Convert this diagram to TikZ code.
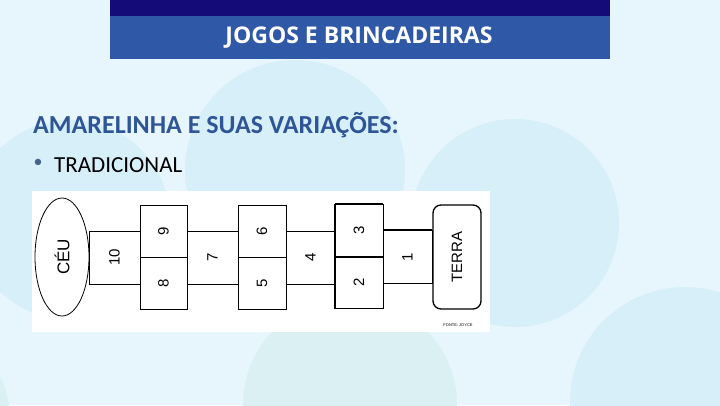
\documentclass[tikz,border=0pt]{standalone}
\usepackage{fontspec}
\setmainfont{Carlito}
\newfontfamily\titlefont{Open Sans}
\newfontfamily\boardfont{Liberation Sans}
\usetikzlibrary{shapes.geometric}

\definecolor{slidebg}{RGB}{230,246,252}
\definecolor{bubbleblue}{RGB}{215,239,248}
\definecolor{bubblegreen}{RGB}{218,240,242}
\definecolor{navybar}{RGB}{20,10,120}
\definecolor{titlebar}{RGB}{47,89,167}
\definecolor{headblue}{RGB}{47,85,151}

\tikzset{
  cell/.style={draw, line width=0.8pt, inner sep=0pt, fill=white},
  heavy/.style={line width=1.7pt},
  num/.style={font=\boardfont\fontsize{15}{15}\selectfont, rotate=90, inner sep=0pt}
}

\begin{document}
\begin{tikzpicture}[x=1pt,y=-1pt]
\useasboundingbox (0,0) rectangle (720,405);

%% background and bubbles
\fill[slidebg] (0,0) rectangle (720,405);
\fill[bubbleblue] (70,220) circle (100);
\fill[bubbleblue] (295,170) circle (110);
\fill[bubbleblue] (515,223) circle (104);
\fill[bubblegreen] (350,405) circle (107);
\fill[bubbleblue] (685,402) circle (115);
\fill[bubblegreen] (-90,420) circle (100);

%% header
\fill[navybar] (110,0) rectangle (610,16);
\fill[titlebar] (110,16) rectangle (610,59);
\node[text=white, font=\titlefont\bfseries\fontsize{23}{23}\selectfont] (title) at (359,38) {JOGOS E BRINCADEIRAS};

%% texts
\node[anchor=base west, inner sep=0pt, text=headblue, font=\bfseries\fontsize{26}{26}\selectfont] (heading) at (33,133) {AMARELINHA E SUAS VARIAÇÕES:};
\node[inner sep=0pt, text=headblue!70!gray, font=\fontsize{18}{18}\selectfont] (dot) at (38,163) {•};
\node[anchor=base west, inner sep=0pt, font=\fontsize{23}{23}\selectfont] (item) at (54,172) {TRADICIONAL};

%% board
\node[fill=white, inner sep=0pt, minimum width=458pt, minimum height=141pt] (board) at (261,261.5) {};

%% cells
\node[cell, minimum width=51pt, minimum height=53pt] (c10) at (114.5,257.5) {};  %% 10
\node[cell, minimum width=47pt, minimum height=52pt] (c9) at (163.5,231) {};     %% 9
\node[cell, minimum width=47pt, minimum height=52pt] (c8) at (163.5,283) {};     %% 8
\node[cell, minimum width=51pt, minimum height=53pt] (c7) at (212.5,257.5) {};   %% 7
\node[cell, minimum width=48pt, minimum height=52pt] (c6) at (262,231) {};       %% 6
\node[cell, minimum width=48pt, minimum height=52pt] (c5) at (262,283) {};       %% 5
\node[cell, minimum width=49pt, minimum height=53pt] (c4) at (310.5,257.5) {};   %% 4
\node[cell, minimum width=48pt, minimum height=52pt] (c3) at (359,230.5) {};     %% 3
\node[cell, minimum width=48pt, minimum height=52pt] (c2) at (359,282.5) {};     %% 2
\node[cell, minimum width=49pt, minimum height=53pt] (c1) at (407.5,257) {};     %% 1
\node[cell, ellipse, minimum width=54pt, minimum height=118pt] (ceu) at (62,257) {};                  %% ceu
\node[cell, line width=1.3pt, rounded corners=8pt, minimum width=48pt, minimum height=104pt] (terra) at (457,257) {}; %% terra

%% heavy edges
\draw[heavy] (c10.south west) -- (c10.south east);
\draw[heavy] (c9.south west) -- (c9.south east);
\draw[heavy] (c8.south west) -- (c8.south east);
\draw[heavy] (c7.south west) -- (c7.south east);
\draw[heavy] (c6.south west) -- (c6.south east);
\draw[heavy] (c6.north east) -- (c5.south east);
\draw[heavy] (c5.south west) -- (c5.south east);
\draw[heavy] (c4.south west) -- (c4.south east);
\draw[heavy] (c3.north west) -- (c3.north east);
\draw[heavy] (c3.south west) -- (c3.south east);
\draw[heavy] (c3.north west) -- (c2.south west);
\draw[heavy] (c1.north west) -- (c1.north east);

%% labels
\node[num, font=\boardfont\fontsize{17}{17}\selectfont] at (ceu) {CÉU};
\node[num] at (c10) {10};
\node[num] at (c9) {9};
\node[num] at (c8) {8};
\node[num] at (c7) {7};
\node[num] at (c6) {6};
\node[num] at (c5) {5};
\node[num] at (c4) {4};
\node[num] at (c3) {3};
\node[num] at (c2) {2};
\node[num] at (c1) {1};
\node[num] at (terra) {TERRA};
\node[inner sep=0pt, font=\boardfont\fontsize{4}{4}\selectfont] (source) at (458,325) {FONTE: JOYCE};

\end{tikzpicture}
\end{document}
